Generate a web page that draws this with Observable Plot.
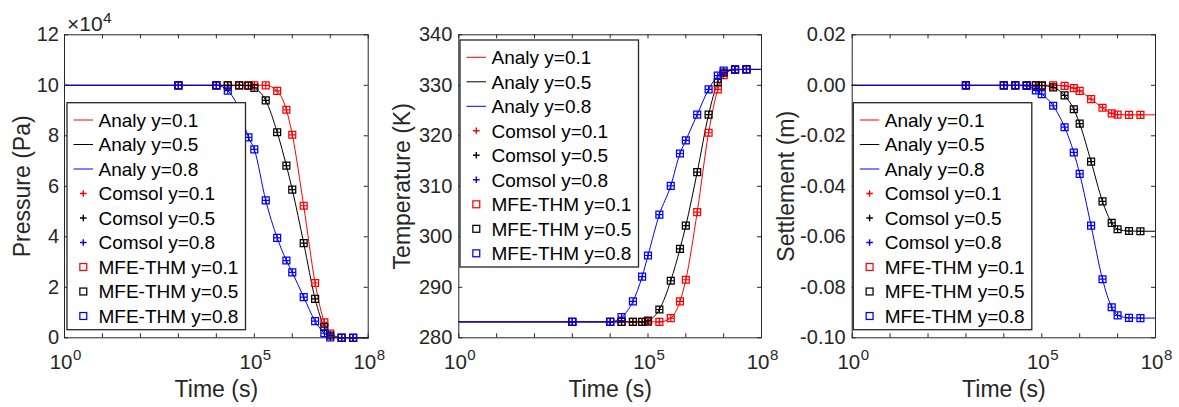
<!DOCTYPE html>
<html><head><meta charset="utf-8">
<script src="https://cdn.jsdelivr.net/npm/d3@7"></script>
<script src="https://cdn.jsdelivr.net/npm/@observablehq/plot@0.6"></script>
<style>
body{margin:0;background:#fff;}
#wrap{position:relative;width:1179px;height:407px;overflow:hidden;background:#fff;}
#wrap svg{position:absolute;top:0;overflow:visible;}
</style></head><body><div id="wrap"></div>
<script>
// ---- data ----
const times = [1e3,1e4,2e4,4e4,7e4,1e5,2e5,4e5,7e5,1e6,2e6,4e6,7e6,1e7,2e7,4e7];
const analyTimes = [1,1e3,1e4,2e4,4e4,7e4,1e5,2e5,4e5,7e5,1e6,2e6,4e6,7e6,1e7,2e7,4e7,1e8];
const seriesNames = ["y=0.1","y=0.5","y=0.8"];
const seriesColors = ["#ff0000","#000000","#0000ff"];

// Pressure (Pa)
const pressure01 = [100000,100000,100000,100000,100000,100000,100000,97800,90300,80400,52300,21700,6100,1700,100,0];
const pressure05 = [100000,100000,100000,100000,99900,99000,94000,81400,68200,58700,37500,15400,4200,900,0,0];
const pressure08 = [100000,100000,97900,90400,79400,74600,54400,39600,30600,25900,16100,6600,1800,200,0,0];
const pressureAnaly01 = [100000,100000,100000,100000,100000,100000,100000,100000,97800,90300,80400,52300,21700,6100,1700,100,0,0];
const pressureAnaly05 = [100000,100000,100000,100000,100000,99900,99000,94000,81400,68200,58700,37500,15400,4200,900,0,0,0];
const pressureAnaly08 = [100000,100000,100000,97900,90400,79400,74600,54400,39600,30600,25900,16100,6600,1800,200,0,0,0];

// Temperature (K)
const temp01 = [283.15,283.15,283.15,283.15,283.15,283.15,283.15,283.9,287.2,291.5,304.9,320.6,329.2,332.0,333.1,333.15];
const temp05 = [283.15,283.15,283.15,283.15,283.15,283.4,285.6,291.3,297.6,302.2,312.8,324.2,330.6,332.5,333.1,333.15];
const temp08 = [283.15,283.15,284.1,287.2,292.1,296.3,304.4,310.1,316.5,319.1,324.2,329.2,331.9,332.9,333.15,333.15];
const tempAnaly01 = [283.15,283.15,283.15,283.15,283.15,283.15,283.15,283.15,283.9,287.2,291.5,304.9,320.6,329.2,332.0,333.1,333.15,333.15];
const tempAnaly05 = [283.15,283.15,283.15,283.15,283.15,283.15,283.4,285.6,291.3,297.6,302.2,312.8,324.2,330.6,332.5,333.1,333.15,333.15];
const tempAnaly08 = [283.15,283.15,283.15,284.1,287.2,292.1,296.3,304.4,310.1,316.5,319.1,324.2,329.2,331.9,332.9,333.15,333.15,333.15];

// Settlement (m)
const settle01 = [0,0,0,0,0,0,0,-0.0002,-0.0011,-0.0022,-0.0055,-0.0089,-0.0111,-0.0116,-0.0117,-0.0117];
const settle05 = [0,0,0,0,0,-0.0001,-0.0008,-0.004,-0.0095,-0.0152,-0.0302,-0.046,-0.0545,-0.057,-0.0577,-0.0578];
const settle08 = [0,0,0,-0.0002,-0.002,-0.0035,-0.0081,-0.0166,-0.0266,-0.0351,-0.0556,-0.0768,-0.0879,-0.0911,-0.0921,-0.0922];
const settleAnaly01 = [0,0,0,0,0,0,0,0,-0.0002,-0.0011,-0.0022,-0.0055,-0.0089,-0.0111,-0.0116,-0.0117,-0.0117,-0.0117];
const settleAnaly05 = [0,0,0,0,0,0,-0.0001,-0.0008,-0.004,-0.0095,-0.0152,-0.0302,-0.046,-0.0545,-0.057,-0.0577,-0.0578,-0.0578];
const settleAnaly08 = [0,0,0,0,-0.0002,-0.002,-0.0035,-0.0081,-0.0166,-0.0266,-0.0351,-0.0556,-0.0768,-0.0879,-0.0911,-0.0921,-0.0922,-0.0922];

// axes
const xTickValues = [1,1e1,1e2,1e3,1e4,1e5,1e6,1e7,1e8];
const xLabelValues = [1,1e5,1e8];
const pressureTicks = [0,20000,40000,60000,80000,100000,120000];
const tempTicks = [280,290,300,310,320,330,340];
const settleTicks = [-0.1,-0.08,-0.06,-0.04,-0.02,0,0.02];
const legendLabels = ["Analy y=0.1","Analy y=0.5","Analy y=0.8","Comsol y=0.1","Comsol y=0.5","Comsol y=0.8","MFE-THM y=0.1","MFE-THM y=0.5","MFE-THM y=0.8"];

// ---- drawing ----
const FONT = "'Liberation Sans', Arial, Helvetica, sans-serif";
const AX = "#262626";
const H = 407, MT = 34.3, MB = 69.7;
const toRows = (ts, vs) => ts.map((t, i) => ({t, v: vs[i]}));

function panel(cfg) {
  const innerH = H - MT - MB;
  const innerW = cfg.width - cfg.mL - cfg.mR;
  const marks = [];
  cfg.analy.forEach((vs, k) => marks.push(Plot.line(toRows(analyTimes, vs), {x: "t", y: "v", stroke: seriesColors[k], strokeWidth: 1, curve: "monotone-x"})));
  cfg.vals.forEach((vs, k) => marks.push(Plot.dot(toRows(times, vs), {x: "t", y: "v", symbol: "plus", r: 2.3, stroke: seriesColors[k], strokeWidth: 1.2})));
  cfg.vals.forEach((vs, k) => marks.push(Plot.dot(toRows(times, vs), {x: "t", y: "v", symbol: "square", r: 3.9, stroke: seriesColors[k], fill: "none", strokeWidth: 1.25})));
  marks.push(Plot.frame({stroke: AX, strokeWidth: 1}));
  marks.push(Plot.tickX(xTickValues, {x: d => d, insetTop: innerH - 4, stroke: AX}));
  marks.push(Plot.tickX(xTickValues, {x: d => d, insetBottom: innerH - 4, stroke: AX}));
  marks.push(Plot.tickY(cfg.yTicks, {y: d => d, insetRight: innerW - 4, stroke: AX}));
  marks.push(Plot.tickY(cfg.yTicks, {y: d => d, insetLeft: innerW - 4, stroke: AX}));
  marks.push(Plot.axisY({ticks: cfg.yTicks, tickFormat: cfg.yFmt, tickSize: 0, tickPadding: cfg.pad, fontSize: 20, label: null, fill: AX}));
  marks.push(Plot.text(xLabelValues, {x: d => d, text: () => "10", frameAnchor: "bottom", textAnchor: "end", lineAnchor: "bottom", dx: 8, dy: 31, fontSize: 20.5, fill: AX}));
  marks.push(Plot.text(xLabelValues, {x: d => d, text: d => String(Math.round(Math.log10(d))), frameAnchor: "bottom", textAnchor: "start", lineAnchor: "bottom", dx: 8.5, dy: 22.5, fontSize: 15, fill: AX}));
  marks.push(Plot.text(["Time (s)"], {text: d => d, frameAnchor: "bottom", textAnchor: "middle", lineAnchor: "bottom", dy: 59.4, fontSize: 23, fill: AX}));
  marks.push(Plot.text([cfg.yLabel], {text: d => d, frameAnchor: "left", textAnchor: "middle", rotate: -90, lineAnchor: "bottom", dx: cfg.yLabelDx, fontSize: 23, fill: AX}));
  if (cfg.exp) {
    marks.push(Plot.text(["×10"], {text: d => d, frameAnchor: "top-left", textAnchor: "start", lineAnchor: "bottom", dx: 2.5, dy: -4.3, fontSize: 21, fill: AX}));
    marks.push(Plot.text([cfg.exp], {text: d => d, frameAnchor: "top-left", textAnchor: "start", lineAnchor: "bottom", dx: 38.6, dy: -12, fontSize: 15.5, fill: AX}));
  }
  const svg = Plot.plot({
    width: cfg.width, height: H,
    marginLeft: cfg.mL, marginRight: cfg.mR, marginTop: MT, marginBottom: MB,
    x: {type: "log", domain: [1, 1e8], axis: null},
    y: {domain: cfg.yDomain, axis: null},
    style: {fontFamily: FONT, fontSize: "19px", color: AX, background: "transparent", overflow: "visible"},
    marks
  });
  svg.style.left = cfg.left + "px";
  // legend
  const g = d3.select(svg).append("g").attr("text-anchor", "start");
  const lx = cfg.legX, ly = cfg.legY, lw = 178.5, lh = 227;
  g.append("rect").attr("x", lx).attr("y", ly).attr("width", lw).attr("height", lh)
    .attr("fill", "#fff").attr("stroke", AX).attr("stroke-width", 1.3);
  legendLabels.forEach((lab, i) => {
    const cy = ly + 17.3 + i * 24.5;
    const col = seriesColors[i % 3];
    const kind = Math.floor(i / 3);
    const cx = lx + 16.3;
    if (kind === 0) {
      g.append("line").attr("x1", lx + 6.5).attr("x2", lx + 26).attr("y1", cy).attr("y2", cy).attr("stroke", col).attr("stroke-width", 1);
    } else if (kind === 1) {
      g.append("path").attr("d", `M${cx - 3.3},${cy}H${cx + 3.3}M${cx},${cy - 3.3}V${cy + 3.3}`).attr("stroke", col).attr("stroke-width", 1.4).attr("fill", "none");
    } else {
      g.append("rect").attr("x", cx - 3.45).attr("y", cy - 3.45).attr("width", 6.9).attr("height", 6.9).attr("stroke", col).attr("stroke-width", 1.25).attr("fill", "none");
    }
    g.append("text").attr("x", lx + 31.5).attr("y", cy).attr("dy", "0.36em").attr("text-anchor", "start")
      .attr("font-family", FONT).attr("font-size", 19).attr("fill", "#000").text(lab);
  });
  document.getElementById("wrap").appendChild(svg);
}

panel({left: 0, width: 390, mL: 64, mR: 22.3, yDomain: [0, 120000], yTicks: pressureTicks, yFmt: d => String(d / 1e4), pad: 5.5,
  yLabel: "Pressure (Pa)", yLabelDx: -35, exp: "4",
  vals: [pressure01, pressure05, pressure08], analy: [pressureAnaly01, pressureAnaly05, pressureAnaly08],
  legX: 67, legY: 102.7});
panel({left: 390, width: 395, mL: 68.3, mR: 24, yDomain: [280, 340], yTicks: tempTicks, yFmt: d => String(d), pad: 6.5,
  yLabel: "Temperature (K)", yLabelDx: -49,
  vals: [temp01, temp05, temp08], analy: [tempAnaly01, tempAnaly05, tempAnaly08],
  legX: 70, legY: 40});
panel({left: 785, width: 394, mL: 66.7, mR: 24, yDomain: [-0.1, 0.02], yTicks: settleTicks, yFmt: d => d.toFixed(2), pad: 6.5,
  yLabel: "Settlement (m)", yLabelDx: -58,
  vals: [settle01, settle05, settle08], analy: [settleAnaly01, settleAnaly05, settleAnaly08],
  legX: 68.3, legY: 102.7});
</script></body></html>
